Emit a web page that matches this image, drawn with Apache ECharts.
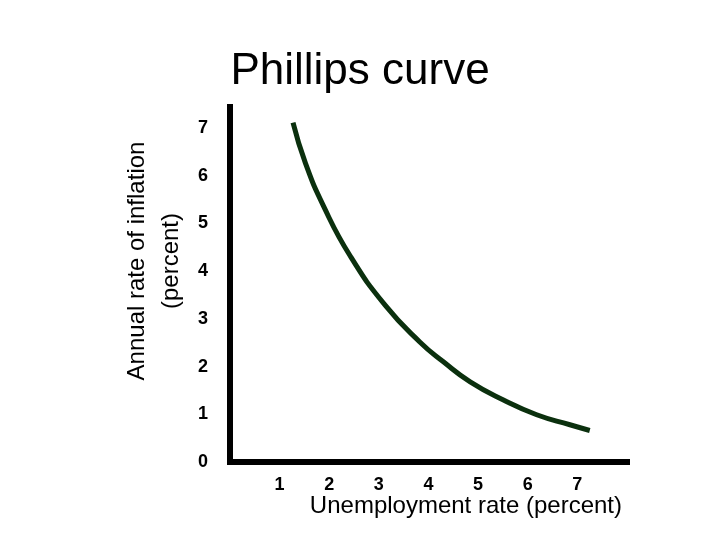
<!DOCTYPE html>
<html lang="en">
<head>
  <meta charset="UTF-8">
  <title>Phillips curve</title>
  <script src="https://cdn.jsdelivr.net/npm/echarts@6/dist/echarts.min.js"></script>
  <style>
    body { margin: 0; background: #fff; }
  </style>
</head>
<body>
<div id="chart" style="width: 720px; height: 540px;"></div>
<script>
// points
var unemployment = [1.27, 1.52, 1.89, 2.42, 3.13, 3.83, 4.30, 4.84, 5.51, 6.18, 6.85, 7.25];
var inflation = [7.11, 6.26, 5.35, 4.32, 3.28, 2.51, 2.10, 1.68, 1.30, 0.99, 0.78, 0.66];
var xTicks = [1, 2, 3, 4, 5, 6, 7];
var yTicks = [0, 1, 2, 3, 4, 5, 6, 7];

var font = '"Liberation Sans", Arial, sans-serif';
var chart = echarts.init(document.getElementById('chart'));

var points = unemployment.map(function (u, i) { return [u, inflation[i]]; });

chart.setOption({
  animation: false,
  title: {
    text: 'Phillips curve',
    left: 'center',
    top: 45,
    textStyle: { fontFamily: font, fontSize: 44, fontWeight: 'normal', color: '#000' }
  },
  grid: { left: 230, right: 93, top: 104, bottom: 78 },
  xAxis: {
    type: 'value',
    min: 0,
    max: 8,
    interval: 1,
    axisLine: { lineStyle: { color: '#000', width: 6, cap: 'square' } },
    axisTick: { show: false },
    splitLine: { show: false },
    axisLabel: {
      margin: 14,
      fontFamily: font,
      fontSize: 18,
      fontWeight: 'bold',
      color: '#000',
      formatter: function (v) { return xTicks.indexOf(v) >= 0 ? String(v) : ''; }
    }
  },
  yAxis: {
    type: 'value',
    min: 0,
    max: 7.5,
    interval: 1,
    axisLine: { show: true, lineStyle: { color: '#000', width: 6, cap: 'butt' } },
    axisTick: { show: false },
    splitLine: { show: false },
    axisLabel: {
      margin: 22,
      fontFamily: font,
      fontSize: 18,
      fontWeight: 'bold',
      color: '#000',
      showMaxLabel: false,
      formatter: function (v) { return yTicks.indexOf(v) >= 0 ? String(v) : ''; }
    }
  },
  graphic: [
    {
      type: 'text',
      x: 154,
      y: 261,
      rotation: Math.PI / 2,
      style: {
        text: 'Annual rate of inflation\n(percent)',
        fontFamily: font,
        fontSize: 24,
        lineHeight: 34,
        fill: '#000',
        align: 'center',
        verticalAlign: 'middle'
      }
    },
    {
      type: 'text',
      x: 622,
      y: 506,
      style: {
        text: 'Unemployment rate (percent)',
        fontFamily: font,
        fontSize: 24,
        fill: '#000',
        align: 'right',
        verticalAlign: 'middle'
      }
    }
  ],
  series: [{
    type: 'line',
    data: points,
    smooth: true,
    showSymbol: false,
    lineStyle: { color: '#0b300e', width: 5, cap: 'butt' }
  }]
});
</script>
</body>
</html>
